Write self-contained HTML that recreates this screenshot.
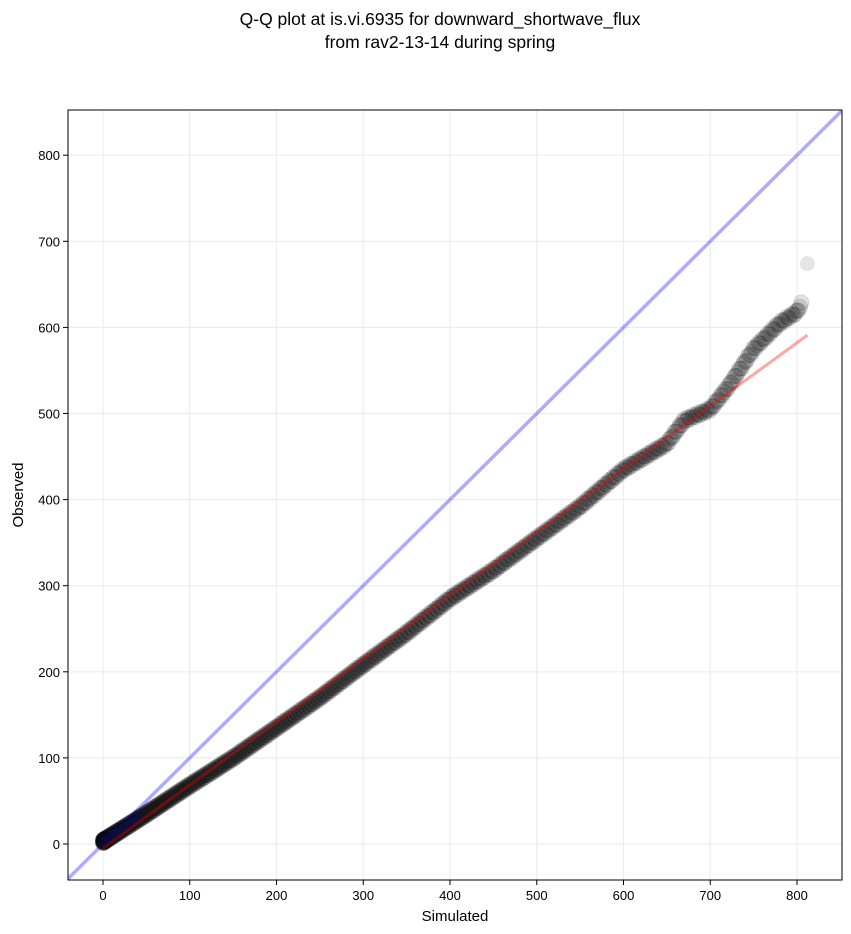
<!DOCTYPE html>
<html><head><meta charset="utf-8"><style>
html,body{margin:0;padding:0;background:#fff;}
svg{display:block;font-family:"Liberation Sans","DejaVu Sans",sans-serif;}
</style></head><body>
<svg id="s" width="851" height="934" viewBox="0 0 851 934" xmlns="http://www.w3.org/2000/svg">
<rect width="851" height="934" fill="#fff"/>
<text x="440" y="25" text-anchor="middle" font-size="17.5">Q-Q plot at is.vi.6935 for downward_shortwave_flux</text>
<text x="440" y="48" text-anchor="middle" font-size="17.5">from rav2-13-14 during spring</text>
<defs><clipPath id="c"><rect x="68" y="110" width="774" height="770"/></clipPath></defs>
<g id="grid" stroke="#ececec" stroke-width="1.2"></g>
<g id="plot" clip-path="url(#c)"></g>
<rect x="68" y="110" width="774" height="770" fill="none" stroke="#000" stroke-width="1"/>
<g id="ticks" font-size="13"></g>
<text x="455" y="921" text-anchor="middle" font-size="15">Simulated</text>
<text x="23" y="495" text-anchor="middle" font-size="15" transform="rotate(-90 23 495)">Observed</text>
</svg>
<script>
const NS="http://www.w3.org/2000/svg";
const X=v=>103+v*0.8675, Y=v=>844-v*0.861;
function el(p,t,a){const e=document.createElementNS(NS,t);for(const k in a)e.setAttribute(k,a[k]);p.appendChild(e);return e;}
const g=document.getElementById('grid'),tk=document.getElementById('ticks'),pl=document.getElementById('plot');
for(let v=0;v<=800;v+=100){
 el(g,'line',{x1:X(v),x2:X(v),y1:110,y2:880});
 el(g,'line',{x1:68,x2:842,y1:Y(v),y2:Y(v)});
 el(tk,'line',{x1:X(v),x2:X(v),y1:880,y2:885,stroke:'#000'});
 el(tk,'line',{x1:63,x2:68,y1:Y(v),y2:Y(v),stroke:'#000'});
 el(tk,'text',{x:X(v),y:900,'text-anchor':'middle'}).textContent=v;
 el(tk,'text',{x:60,y:Y(v)+5,'text-anchor':'end'}).textContent=v;
}
el(pl,'line',{x1:X(-50),y1:Y(-50),x2:X(900),y2:Y(900),stroke:'#0000ff','stroke-opacity':0.33,'stroke-width':3.5});
const K=[[0,3],[50,35],[100,68],[150,100],[200,135],[250,170],[300,208],[350,245],[400,285],[450,318],[500,355],[550,392],[600,435],[650,465],[670,492],[700,505],[720,530],[750,575],[780,605],[800,618],[805,627]];
function f(x){for(let i=1;i<K.length;i++){if(x<=K[i][0]){const a=K[i-1],b=K[i];return a[1]+(b[1]-a[1])*(x-a[0])/(b[0]-a[0]);}}return 627;}
const n=900;
for(let i=0;i<n;i++){
 const q=i/(n-1);
 let s=805*Math.pow(q,1.7);
 let o=f(s)+Math.sin(i*1.7)*2;
 el(pl,'circle',{cx:X(s),cy:Y(o),r:7.5,fill:'#222','fill-opacity':0.13,stroke:'#000','stroke-opacity':0.12,'stroke-width':1});
}
el(pl,'circle',{cx:X(812),cy:Y(674),r:7.5,fill:'#333','fill-opacity':0.13});
el(pl,'line',{x1:X(0),y1:Y(-5),x2:X(812),y2:Y(591),stroke:'#ff0000','stroke-opacity':0.35,'stroke-width':3});
for(let s=0;s<=40;s+=5){el(pl,'circle',{cx:X(s),cy:Y(s*0.75+3),r:6,fill:'#0000aa','fill-opacity':0.15});}
</script>
</body></html>
